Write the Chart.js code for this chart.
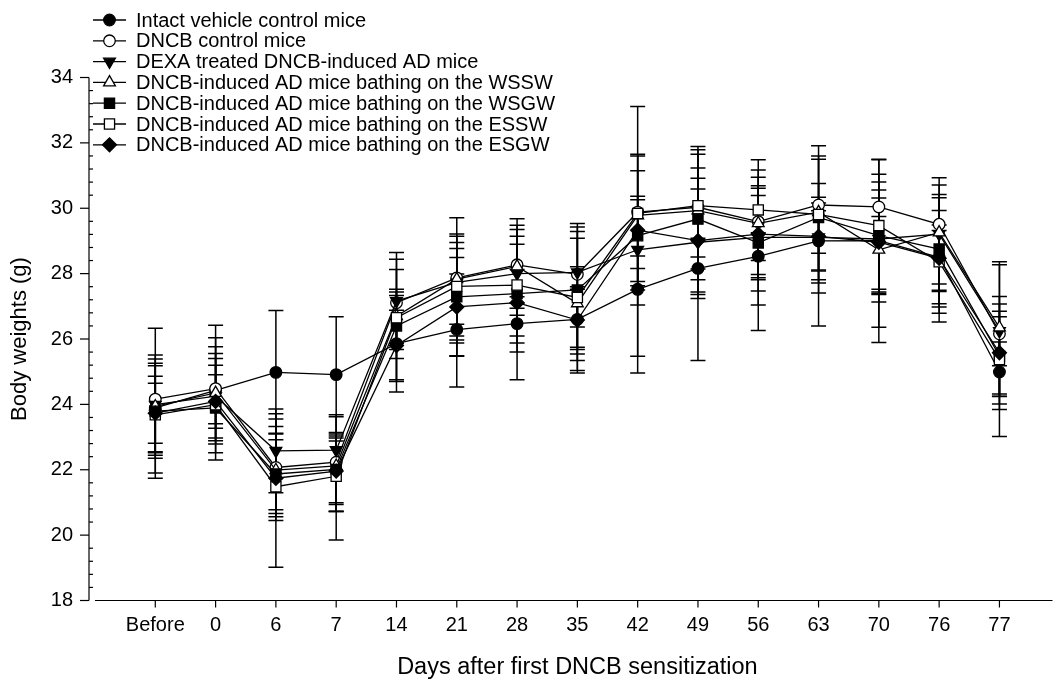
<!DOCTYPE html>
<html>
<head>
<meta charset="utf-8">
<script src="https://cdn.jsdelivr.net/npm/chart.js@4.4.1/dist/chart.umd.min.js"></script>
<style>
html,body{margin:0;padding:0;background:#fff;}
#wrap{position:relative;width:1061px;height:681px;}
</style>
</head>
<body>
<div id="wrap"><canvas id="c" width="1061" height="681"></canvas></div>
<script>
const categories = ['Before','0','6','7','14','21','28','35','42','49','56','63','70','76','77'];
const yTicks = [18,20,22,24,26,28,30,32,34];
const xTitle = 'Days after first DNCB sensitization';
const yTitle = 'Body weights (g)';
const seriesNames = [
  'Intact vehicle control mice',
  'DNCB control mice',
  'DEXA treated DNCB-induced AD mice',
  'DNCB-induced AD mice bathing on the WSSW',
  'DNCB-induced AD mice bathing on the WSGW',
  'DNCB-induced AD mice bathing on the ESSW',
  'DNCB-induced AD mice bathing on the ESGW'
];

const intact   = [23.89,24.43,24.98,24.91,25.86,26.29,26.47,26.60,27.52,28.16,28.53,29.00,29.01,28.50,24.99];
const intactUp = [1.37,1.61,1.89,1.77,1.02,1.70,0.82,0.92,1.02,0.92,0.72,0.92,1.55,0.82,0.92];
const intactDn = [1.37,1.54,1.89,1.77,0.46,1.76,1.72,0.92,2.56,0.92,0.72,0.92,3.12,0.82,1.97];

const dncb   = [24.16,24.48,22.07,22.23,27.11,27.87,28.27,27.98,29.88,30.03,29.59,30.10,30.04,29.51,26.16];
const dncbUp = [2.17,1.94,1.64,1.39,1.54,1.84,1.41,1.55,3.23,1.86,1.58,1.81,1.46,1.42,2.11];
const dncbDn = [2.26,1.96,1.62,1.51,1.43,1.99,1.33,2.23,2.84,2.22,1.62,1.99,2.52,2.02,2.32];

const dexa   = [23.99,24.25,22.58,22.60,27.16,27.73,28.00,28.04,28.73,28.96,29.11,29.11,29.06,29.21,26.24];
const dexaUp = [1.52,1.51,1.28,1.08,1.28,1.48,1.48,1.39,1.53,1.96,1.50,1.23,1.74,1.21,1.06];
const dexaDn = [1.64,1.46,1.28,1.87,1.28,1.64,1.91,1.67,1.23,0.82,2.07,2.71,1.62,2.23,1.06];

const wssw   = [23.94,24.35,21.99,22.12,26.70,27.83,28.22,27.09,29.78,29.93,29.54,29.88,28.73,29.26,26.35];
const wsswUp = [1.45,1.21,1.56,0.97,1.43,1.31,1.13,2.20,1.82,1.72,1.41,1.72,1.02,1.45,2.01];
const wsswDn = [1.50,0.94,1.43,1.13,1.95,1.86,1.13,2.05,2.02,2.49,1.67,2.17,2.37,2.18,2.10];

const wsgw   = [23.79,23.89,21.87,22.01,26.40,27.29,27.39,27.50,29.16,29.67,28.94,29.72,29.16,28.75,25.48];
const wsgwUp = [1.39,1.51,1.45,0.96,1.12,1.66,1.75,1.58,1.21,1.56,1.45,1.04,1.88,1.57,1.59];
const wsgwDn = [2.05,1.59,1.21,1.29,1.70,1.80,1.51,2.54,3.69,2.31,2.68,2.31,2.03,1.96,1.47];

const essw   = [23.68,23.99,21.48,21.80,26.65,27.61,27.65,27.27,29.84,30.08,29.95,29.81,29.47,28.36,25.37];
const esswUp = [1.18,1.21,1.64,1.23,0.79,1.16,1.25,0.94,1.81,1.71,1.53,1.69,2.01,1.57,1.31];
const esswDn = [1.13,1.02,2.46,1.95,0.79,1.16,0.92,1.73,2.21,1.57,1.55,2.00,2.08,1.84,1.13];

const esgw   = [23.73,24.09,21.74,21.96,25.80,26.98,27.11,26.58,29.33,29.01,29.21,29.14,28.96,28.47,25.58];
const esgwUp = [0.92,0.82,1.18,0.92,1.53,1.51,1.02,1.02,1.82,1.58,1.48,1.02,1.35,1.02,1.27];
const esgwDn = [0.92,0.82,0.96,1.02,1.42,1.51,1.51,1.24,1.17,3.67,1.74,0.52,1.60,1.02,1.26];

const means = [intact, dncb, dexa, wssw, wsgw, essw, esgw];
const ups   = [intactUp, dncbUp, dexaUp, wsswUp, wsgwUp, esswUp, esgwUp];
const dns   = [intactDn, dncbDn, dexaDn, wsswDn, wsgwDn, esswDn, esgwDn];

const markers = [
  {style:'circle',   fill:'#000', radius:5.8, rotation:0},
  {style:'circle',   fill:'#fff', radius:5.8, rotation:0},
  {style:'triangle', fill:'#000', radius:6.8, rotation:180},
  {style:'triangle', fill:'#fff', radius:6.8, rotation:0},
  {style:'rect',     fill:'#000', radius:7.2, rotation:0},
  {style:'rect',     fill:'#fff', radius:7.2, rotation:0},
  {style:'rectRot',  fill:'#000', radius:7,   rotation:0}
];

const FONT = "'Liberation Sans', Arial, sans-serif";

const datasets = means.map((m, i) => ({
  label: seriesNames[i],
  data: m.map((v, j) => ({x: j, y: v})),
  borderColor: '#000',
  borderWidth: 1.3,
  backgroundColor: markers[i].fill,
  pointStyle: markers[i].style,
  pointRadius: markers[i].radius,
  pointRotation: markers[i].rotation,
  pointBackgroundColor: markers[i].fill,
  pointBorderColor: '#000',
  pointBorderWidth: 1.3,
  tension: 0,
  fill: false,
  order: 10 - i
}));

const errorBars = {
  id: 'errorBars',
  beforeDatasetsDraw(chart) {
    const ctx = chart.ctx, xs = chart.scales.x, ys = chart.scales.y;
    ctx.save();
    ctx.strokeStyle = '#000';
    ctx.lineWidth = 1.5;
    for (let s = 0; s < means.length; s++) {
      for (let j = 0; j < categories.length; j++) {
        const x = xs.getPixelForValue(j);
        const yt = ys.getPixelForValue(means[s][j] + ups[s][j]);
        const yb = ys.getPixelForValue(means[s][j] - dns[s][j]);
        ctx.beginPath();
        ctx.moveTo(x, yt); ctx.lineTo(x, yb);
        ctx.moveTo(x - 7.5, yt); ctx.lineTo(x + 7.5, yt);
        ctx.moveTo(x - 7.5, yb); ctx.lineTo(x + 7.5, yb);
        ctx.stroke();
      }
    }
    ctx.restore();
  }
};

const axesAndText = {
  id: 'axesAndText',
  afterDraw(chart) {
    const ctx = chart.ctx, xs = chart.scales.x, ys = chart.scales.y;
    ctx.save();
    ctx.strokeStyle = '#000';
    ctx.fillStyle = '#000';
    ctx.lineWidth = 1.2;
    const x0 = xs.getPixelForValue(-1);
    const y0 = ys.getPixelForValue(18);
    const yTop = ys.getPixelForValue(34);
    const ax = x0 - 6;
    ctx.beginPath();
    ctx.moveTo(ax, y0); ctx.lineTo(ax, yTop);
    ctx.stroke();
    ctx.font = '20px ' + FONT;
    ctx.textAlign = 'right';
    ctx.textBaseline = 'middle';
    yTicks.forEach(v => {
      const y = ys.getPixelForValue(v);
      ctx.beginPath(); ctx.moveTo(ax - 9, y); ctx.lineTo(ax, y); ctx.stroke();
      ctx.fillText(String(v), ax - 16, y);
    });
    for (let k = 1; k < 40; k++) {
      if (k % 5 === 0) continue;
      const y = ys.getPixelForValue(18 + k * 0.4);
      ctx.beginPath(); ctx.moveTo(ax, y); ctx.lineTo(ax + 4, y); ctx.stroke();
    }
    ctx.beginPath();
    ctx.moveTo(x0, y0); ctx.lineTo(chart.chartArea.right, y0);
    ctx.stroke();
    ctx.textAlign = 'center';
    categories.forEach((c, j) => {
      const x = xs.getPixelForValue(j);
      ctx.beginPath(); ctx.moveTo(x, y0); ctx.lineTo(x, y0 + 7); ctx.stroke();
      ctx.fillText(c, x, y0 + 25);
    });
    ctx.font = '23.5px ' + FONT;
    const xc = (xs.getPixelForValue(-1) + xs.getPixelForValue(15)) / 2;
    ctx.fillText(xTitle, xc, 668);
    ctx.save();
    ctx.translate(20, (y0 + yTop) / 2);
    ctx.rotate(-Math.PI / 2);
    ctx.font = '22px ' + FONT;
    ctx.fillText(yTitle, 0, 0);
    ctx.restore();
    ctx.font = '20px ' + FONT;
    ctx.textAlign = 'left';
    for (let i = 0; i < seriesNames.length; i++) {
      const y = 20 + i * 20.8;
      ctx.lineWidth = 1.3;
      ctx.strokeStyle = '#000';
      ctx.beginPath(); ctx.moveTo(93, y); ctx.lineTo(126, y); ctx.stroke();
      ctx.fillStyle = markers[i].fill;
      Chart.helpers.drawPoint(ctx, {
        pointStyle: markers[i].style,
        radius: markers[i].radius,
        rotation: markers[i].rotation,
        borderWidth: 1.3
      }, 109.5, y);
      ctx.fillStyle = '#000';
      ctx.fillText(seriesNames[i], 136, y + 1);
    }
    ctx.restore();
  }
};

new Chart(document.getElementById('c'), {
  type: 'line',
  data: { datasets },
  options: {
    responsive: false,
    animation: false,
    events: [],
    layout: { padding: { left: 95, top: 77.5, right: 5, bottom: 80.5 } },
    plugins: { legend: { display: false }, tooltip: { enabled: false } },
    scales: {
      x: { type: 'linear', min: -1, max: 14.88, display: false },
      y: { type: 'linear', min: 18, max: 34, display: false }
    }
  },
  plugins: [errorBars, axesAndText]
});
</script>
</body>
</html>
